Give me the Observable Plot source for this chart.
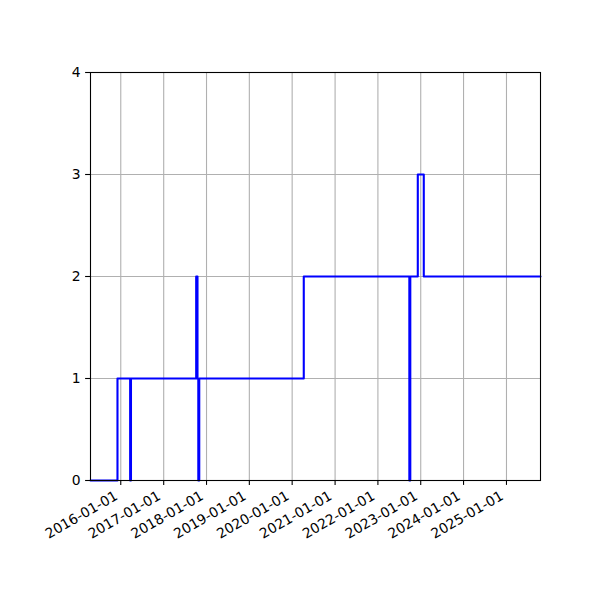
<!DOCTYPE html>
<html>
<head>
<meta charset="utf-8">
<script src="https://cdn.jsdelivr.net/npm/d3@7"></script>
<script src="https://cdn.jsdelivr.net/npm/@observablehq/plot@0.6"></script>
<style>
  html, body { margin: 0; padding: 0; background: #fff; }
  #chart svg { display: block; }
</style>
</head>
<body>
<div id="chart"></div>
<script>
const dates = ["2015-04-18","2015-12-04","2016-03-21","2016-03-28","2017-10-05","2017-10-16","2017-10-23","2017-10-31","2020-04-09","2022-09-26","2022-10-04","2022-12-07","2023-01-27","2025-10-18"];
const values = [0,1,0,1,2,1,0,1,2,0,2,3,2,2];
const xTickDates = ["2016-01-01","2017-01-01","2018-01-01","2019-01-01","2020-01-01","2021-01-01","2022-01-01","2023-01-01","2024-01-01","2025-01-01"];
const yTicks = [0,1,2,3,4];

const data = dates.map((d, i) => ({date: new Date(d + "T00:00:00Z"), value: values[i]}));
const xTicks = xTickDates.map(d => new Date(d + "T00:00:00Z"));
const fmt = d3.utcFormat("%Y-%m-%d");

const chart = Plot.plot({
  width: 600,
  height: 600,
  marginLeft: 90,
  marginRight: 60,
  marginTop: 72,
  marginBottom: 120,
  style: {fontFamily: "DejaVu Sans", fontSize: "13.9px", color: "black", background: "white"},
  x: {type: "utc", domain: [data[0].date, data[data.length - 1].date]},
  y: {domain: [0, 4]},
  marks: [
    Plot.gridX(xTicks, {stroke: "#b0b0b0", strokeOpacity: 1, strokeWidth: 1.1}),
    Plot.gridY(yTicks, {stroke: "#b0b0b0", strokeOpacity: 1, strokeWidth: 1.1}),
    Plot.line(data, {x: "date", y: "value", curve: "step-after", stroke: "#0000ff", strokeWidth: 2.1}),
    Plot.axisX(xTicks, {tickFormat: () => "", tickSize: 4.9, label: null, stroke: "black", strokeWidth: 1.1}),
    Plot.text(xTicks, {x: d => d, text: d => fmt(d), frameAnchor: "bottom", rotate: -30, textAnchor: "end", lineAnchor: "top", dx: -7, dy: 9.5, fill: "black", fontSize: 13.9}),
    Plot.axisY(yTicks, {tickFormat: d3.format("d"), tickSize: 4.9, tickPadding: 5, label: null, fill: "black", stroke: "black", strokeWidth: 1.1}),
    Plot.frame({stroke: "black", strokeWidth: 1.1})
  ]
});
document.getElementById("chart").appendChild(chart);
</script>
</body>
</html>
